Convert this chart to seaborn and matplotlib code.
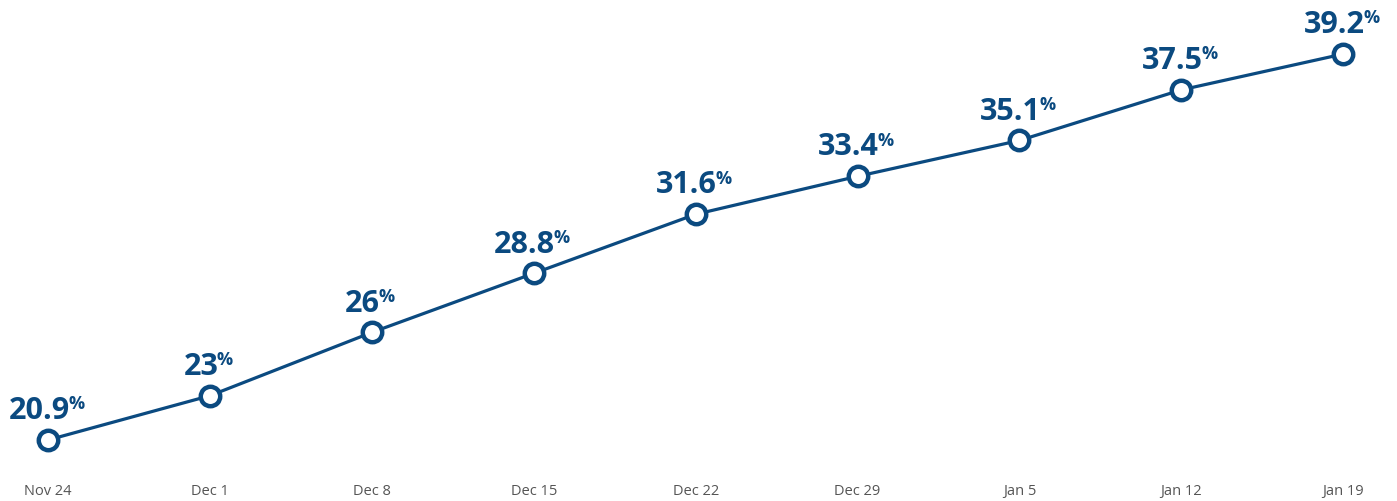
import matplotlib
matplotlib.use("Agg")
import matplotlib.pyplot as plt
import seaborn as sns
import pandas as pd

# data
weeks = ["Nov 24", "Dec 1", "Dec 8", "Dec 15", "Dec 22", "Dec 29", "Jan 5", "Jan 12", "Jan 19"]
share = [20.9, 23, 26, 28.8, 31.6, 33.4, 35.1, 37.5, 39.2]

blue = "#0b4a80"

sns.set_style("white")
plt.rcParams["font.family"] = ["Open Sans", "DejaVu Sans"]

df = pd.DataFrame({"pos": range(len(weeks)), "share": share})

fig = plt.figure(figsize=(13.97, 5.01), dpi=100)
ax = fig.add_axes([0, 0.046, 1, 0.954])

sns.lineplot(data=df, x="pos", y="share", ax=ax, color=blue, linewidth=2.3,
             marker="o", markersize=14, markerfacecolor="white",
             markeredgecolor=blue, markeredgewidth=3.2)

# value labels: bold number with a small raised percent sign, centred over the point
for i, v in enumerate(share):
    txt = f"{v:g}"
    num = ax.annotate(txt, xy=(i, v), xytext=(-6.5, 15), textcoords="offset points",
                      ha="center", va="baseline", fontsize=22, fontweight="bold",
                      color=blue)
    ax.annotate("%", xy=(1, 1), xycoords=num, xytext=(-1, 0.5),
                textcoords="offset points", ha="left", va="top",
                fontsize=13, fontweight="bold", color=blue)

ax.set_xlim(-0.2965, 8.332)
ax.set_ylim(19.10, 41.76)
ax.set_xticks(range(len(weeks)))
ax.set_xticklabels(weeks)
ax.set_yticks([])
ax.set_xlabel("")
ax.set_ylabel("")
ax.tick_params(axis="x", length=0, pad=4, labelsize=10.5, labelcolor="#555555")
sns.despine(ax=ax, left=True, bottom=True)

fig.savefig("out.png", dpi=100)
